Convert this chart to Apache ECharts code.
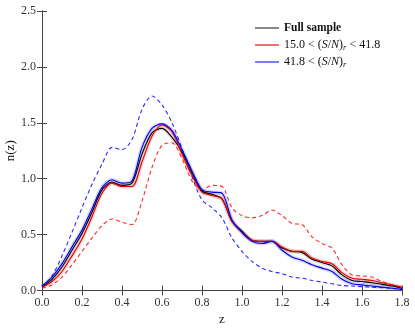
<!DOCTYPE html>
<html>
<head>
<meta charset="utf-8">
<script src="https://cdn.jsdelivr.net/npm/echarts@6/dist/echarts.min.js"></script>
<style>
  html, body { margin: 0; padding: 0; background: #fff; }
  #chart { width: 415px; height: 328px; }
</style>
</head>
<body>
<div id="chart"></div>
<script>
// redshift grid (bin centres read every 0.05)
const zVals = [0.00, 0.05, 0.10, 0.15, 0.20, 0.25, 0.30, 0.35, 0.40, 0.45,
  0.50, 0.55, 0.60, 0.65, 0.70, 0.75, 0.80, 0.85, 0.90, 0.95,
  1.00, 1.05, 1.10, 1.15, 1.20, 1.25, 1.30, 1.35, 1.40, 1.45,
  1.50, 1.55, 1.60, 1.65, 1.70, 1.75, 1.80]

const fullSample = [0.03, 0.10, 0.21, 0.36, 0.51, 0.70, 0.90, 0.97, 0.94, 0.96,
  1.22, 1.41, 1.45, 1.37, 1.24, 1.05, 0.89, 0.86, 0.82, 0.62,
  0.53, 0.45, 0.44, 0.44, 0.38, 0.35, 0.34, 0.28, 0.25, 0.22,
  0.14, 0.09, 0.08, 0.07, 0.055, 0.04, 0.02]

const midSN = [0.03, 0.08, 0.17, 0.31, 0.46, 0.66, 0.87, 0.96, 0.93, 0.93,
  1.15, 1.38, 1.48, 1.42, 1.22, 1.03, 0.88, 0.85, 0.82, 0.62,
  0.52, 0.45, 0.44, 0.44, 0.39, 0.35, 0.35, 0.29, 0.26, 0.24,
  0.16, 0.11, 0.10, 0.09, 0.07, 0.05, 0.03]

const highSN = [0.04, 0.12, 0.24, 0.39, 0.54, 0.73, 0.92, 0.99, 0.96, 0.98,
  1.28, 1.45, 1.49, 1.43, 1.26, 1.07, 0.90, 0.88, 0.87, 0.63,
  0.52, 0.44, 0.42, 0.44, 0.36, 0.30, 0.27, 0.23, 0.20, 0.17,
  0.10, 0.06, 0.05, 0.04, 0.03, 0.02, 0.01]

const midSNDashed = [0.02, 0.05, 0.12, 0.23, 0.35, 0.47, 0.58, 0.64, 0.61, 0.59,
  0.80, 1.10, 1.30, 1.32, 1.18, 0.98, 0.90, 0.94, 0.93, 0.74,
  0.67, 0.65, 0.67, 0.72, 0.67, 0.60, 0.59, 0.48, 0.42, 0.38,
  0.23, 0.14, 0.13, 0.12, 0.08, 0.05, 0.02]

const highSNDashed = [0.03, 0.13, 0.31, 0.52, 0.74, 0.95, 1.13, 1.28, 1.26, 1.35,
  1.62, 1.74, 1.66, 1.50, 1.27, 1.02, 0.81, 0.74, 0.65, 0.47,
  0.35, 0.26, 0.20, 0.17, 0.15, 0.12, 0.11, 0.09, 0.075, 0.06,
  0.045, 0.04, 0.035, 0.03, 0.025, 0.02, 0.01]

const xTicks = { min: 0, max: 1.8, interval: 0.2 }
const yTicks = { min: 0, max: 2.5, interval: 0.5 }

const legendNames = ['Full sample', '15.0 < (S/N)_r < 41.8', '41.8 < (S/N)_r']

const pairs = (ys) => zVals.map((z, i) => [z, ys[i]])
const serif = 'Liberation Serif'
const frame = '#444'

function line (name, ys, color, opts) {
  return Object.assign({
    name: name,
    type: 'line',
    data: pairs(ys),
    smooth: 0.3,
    symbol: 'none',
    lineStyle: { color: color, width: 1.1 },
    itemStyle: { color: color },
    silent: true
  }, opts || {})
}

function band (ys, color) {
  return line('band', ys, color, {
    lineStyle: { color: color, width: 4, opacity: 0.22 },
    z: 1
  })
}

const chart = echarts.init(document.getElementById('chart'))
chart.setOption({
  animation: false,
  grid: { left: 42, top: 11, right: 13, bottom: 37.5, outerBoundsMode: 'none' },
  legend: {
    data: [
      { name: legendNames[0], itemStyle: { color: '#555' } },
      { name: legendNames[1], itemStyle: { color: '#e33' } },
      { name: legendNames[2], itemStyle: { color: '#44f' } }
    ],
    orient: 'vertical',
    left: 250,
    top: 16,
    itemGap: 3,
    itemWidth: 24,
    itemHeight: 1.4,
    icon: 'rect',
    itemStyle: { borderWidth: 0 },
    formatter: function (n) {
      if (n === legendNames[0]) return '{b|Full sample}'
      if (n === legendNames[1]) return '{n|15.0 < (}{i|S}{n|/}{i|N}{n|)}{s|r}{n| < 41.8}'
      return '{n|41.8 < (}{i|S}{n|/}{i|N}{n|)}{s|r}'
    },
    textStyle: {
      fontFamily: serif,
      fontSize: 12,
      lineHeight: 14,
      color: '#111',
      rich: {
        b: { fontFamily: serif, fontSize: 11.5, lineHeight: 14, fontWeight: 'bold', color: '#111' },
        n: { fontFamily: serif, fontSize: 12, lineHeight: 14, color: '#111' },
        i: { fontFamily: serif, fontSize: 12, lineHeight: 14, fontStyle: 'italic', color: '#111' },
        s: { fontFamily: serif, fontSize: 8.5, lineHeight: 14, fontStyle: 'italic', color: '#111', verticalAlign: 'bottom' }
      }
    }
  },
  xAxis: [
    {
      type: 'value',
      min: xTicks.min, max: xTicks.max, interval: xTicks.interval,
      name: 'z',
      nameLocation: 'middle',
      nameGap: 19,
      nameTextStyle: { fontFamily: serif, fontSize: 13, color: '#111' },
      axisLine: { lineStyle: { color: frame, width: 1 } },
      axisTick: { inside: true, length: 5, lineStyle: { color: frame } },
      axisLabel: { fontFamily: serif, fontSize: 12, color: '#333', margin: 6,
        formatter: (v) => v.toFixed(1) },
      splitLine: { show: false }
    },
    {
      type: 'value', position: 'top',
      min: xTicks.min, max: xTicks.max, interval: xTicks.interval,
      axisLine: { lineStyle: { color: frame, width: 1 } },
      axisTick: { inside: true, length: 5, lineStyle: { color: frame } },
      axisLabel: { show: false },
      splitLine: { show: false }
    }
  ],
  yAxis: [
    {
      type: 'value',
      min: yTicks.min, max: yTicks.max, interval: yTicks.interval,
      name: 'n(z)',
      nameLocation: 'middle',
      nameGap: 25,
      nameMoveOverlap: false,
      nameRotate: 90,
      nameTextStyle: { fontFamily: serif, fontSize: 13, color: '#111' },
      axisLine: { show: true, lineStyle: { color: frame, width: 1 } },
      axisTick: { show: true, inside: true, length: 5, lineStyle: { color: frame } },
      axisLabel: { fontFamily: serif, fontSize: 12, color: '#333', margin: 6,
        formatter: (v) => v.toFixed(1) },
      splitLine: { show: false }
    },
    {
      type: 'value', position: 'right',
      min: yTicks.min, max: yTicks.max, interval: yTicks.interval,
      axisLine: { show: true, lineStyle: { color: frame, width: 1 } },
      axisTick: { show: true, inside: true, length: 5, lineStyle: { color: frame } },
      axisLabel: { show: false },
      splitLine: { show: false }
    }
  ],
  series: [
    line('dashed-high', highSNDashed, '#2a2aff', { lineStyle: { color: '#2a2aff', width: 1.1, type: [4, 3] }, z: 2 }),
    line('dashed-mid', midSNDashed, '#ff2a2a', { lineStyle: { color: '#ff2a2a', width: 1.1, type: [4, 3] }, z: 2 }),
    band(fullSample, '#777'),
    band(midSN, '#ff5050'),
    band(highSN, '#5050ff'),
    line(legendNames[0], fullSample, '#000', { z: 3 }),
    line(legendNames[1], midSN, '#e00000', { z: 3 }),
    line(legendNames[2], highSN, '#0000ee', { z: 3 })
  ]
})
</script>
</body>
</html>
